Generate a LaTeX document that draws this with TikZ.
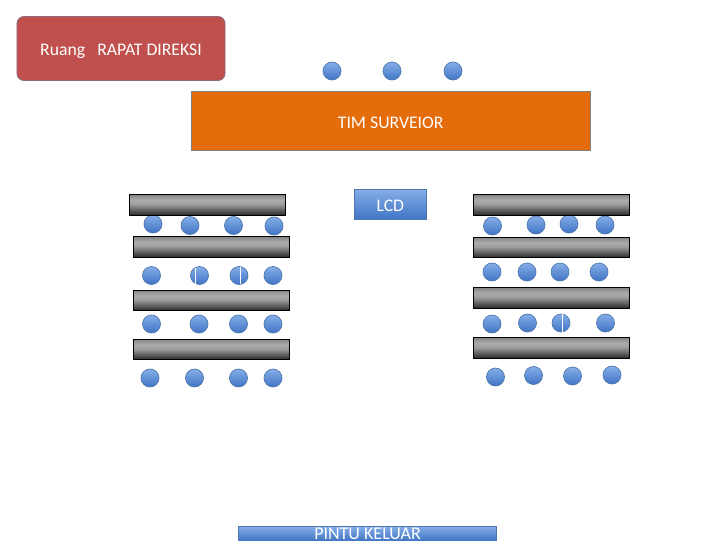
\documentclass[tikz,border=0pt]{standalone}
\usepackage{fontspec}
\setmainfont{Carlito}
\definecolor{roomred}{HTML}{C0504D}
\definecolor{roomedge}{HTML}{8C6A80}
\definecolor{teamorange}{HTML}{E46C0A}
\definecolor{bluetop}{HTML}{86AEE8}
\definecolor{bluebottom}{HTML}{3F74C4}
\definecolor{blueedge}{HTML}{4F78AE}
\pgfdeclareverticalshading{tableshade}{100bp}{color(0bp)=(black!85); color(25bp)=(black!85); color(52bp)=(black!38); color(62bp)=(black!33); color(75bp)=(black!48); color(100bp)=(black!48)}
\tikzset{
  seatdot/.style={circle,draw=blueedge,line width=0.5pt,minimum size=0.45cm,inner sep=0pt,
    top color=bluetop,bottom color=bluebottom},
  tablebar/.style={rectangle,draw=black,line width=0.6pt,minimum width=3.9cm,minimum height=0.52cm,inner sep=0pt,
    shading=tableshade},
  bluebox/.style={rectangle,draw=blueedge,line width=0.5pt,inner sep=0pt,text=white,
    top color=bluetop,bottom color=bluebottom},
  labeltext/.style={text height=10pt,text depth=0pt,font=\fontsize{12.6}{15}\selectfont}
}
\begin{document}
\begin{tikzpicture}[x=0.025cm,y=-0.025cm]
  \useasboundingbox (0,0) rectangle (720,540);
  \clip (0,0) rectangle (720,540);

  % ruang rapat
  \node[rectangle,rounded corners=5pt,draw=roomedge,line width=0.6pt,fill=roomred,text=white,
    minimum width=5.2cm,minimum height=1.6cm,labeltext] (direksi) at (121,48.5) {Ruang\ \ \ RAPAT DIREKSI};

  % tim surveior dan kursinya
  \foreach \x/\y [count=\i] in {332/71,392/71,453/71}
    \node[seatdot] (top\i) at (\x,\y) {};
  \node[rectangle,draw=black!50,line width=0.6pt,fill=teamorange,text=white,
    minimum width=9.98cm,minimum height=1.475cm,labeltext] (surveior) at (390.7,121.4) {TIM SURVEIOR};
  \node[bluebox,minimum width=1.81cm,minimum height=0.76cm,labeltext] (lcd) at (390.3,204.5) {LCD};

  % kursi kiri
  \foreach \x/\y [count=\i] in {153/224,190/225.5,233.5/225.5,274/226,
      151.5/275.5,199.5/275.5,239/275.5,273/275.5,
      151.5/324,199/324,238.5/324,273/324,
      150/378,194.5/378,238.5/378,273/378}
    \node[seatdot] (left\i) at (\x,\y) {};

  % kursi kanan
  \foreach \x/\y [count=\i] in {492.5/226,536/225,569/224,605/225,
      492/272,527/272,560/272,599/272,
      492/324,527.5/323,561/323,605.5/323,
      495.5/377,533.5/375.5,572.5/376,612/375}
    \node[seatdot] (right\i) at (\x,\y) {};

  % meja
  \foreach \x/\y [count=\i] in {207.7/205,211.5/247,211.5/300.5,211.5/349.5}
    \node[tablebar] (meja\i) at (\x,\y) {};
  \foreach \x/\y [count=\i] in {551.8/205,551.8/247.5,551.8/298,551.8/348}
    \node[tablebar] (mejb\i) at (\x,\y) {};

  % garis putih
  \draw[white,line width=0.6pt] (195.5,268) -- (195.5,284);
  \draw[white,line width=0.6pt] (240.5,267) -- (240.5,284);
  \draw[white,line width=0.6pt] (562.5,314) -- (562.5,333);

  % pintu
  \node[bluebox,minimum width=6.45cm,minimum height=0.375cm,text height=8.6pt,text depth=0pt,
    font=\fontsize{12.8}{15}\selectfont] (pintu) at (367.5,533.5) {PINTU KELUAR};
\end{tikzpicture}
\end{document}
